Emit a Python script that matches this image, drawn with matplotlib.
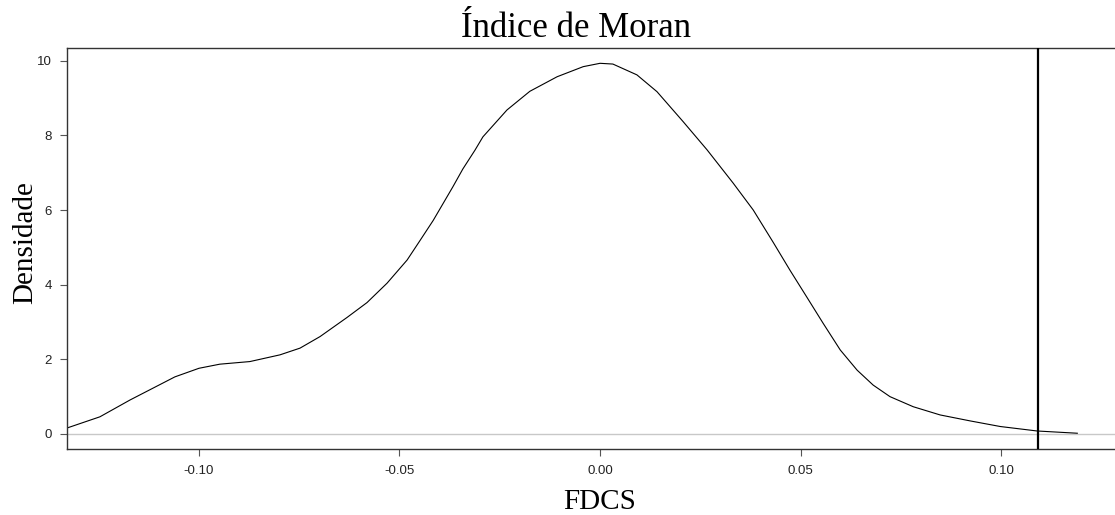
import matplotlib
matplotlib.use("Agg")
import matplotlib.pyplot as plt

# density curve (x = Moran's I, y = density)
moran_x = [-0.1329, -0.1247, -0.1172, -0.1060, -0.1000, -0.0948, -0.0873, -0.0798,
           -0.0748, -0.0698, -0.0631, -0.0581, -0.0531, -0.0481, -0.0449, -0.0416,
           -0.0367, -0.0342, -0.0312, -0.0292, -0.0232, -0.0175, -0.0107, -0.0042,
           0.0000, 0.0032, 0.0092, 0.0142, 0.0207, 0.0267, 0.0332, 0.0382,
           0.0432, 0.0474, 0.0516, 0.0556, 0.0599, 0.0641, 0.0681, 0.0723,
           0.0781, 0.0848, 0.0923, 0.0998, 0.1090, 0.1190]
densidade = [0.16, 0.46, 0.91, 1.53, 1.76, 1.87, 1.94, 2.12,
             2.30, 2.61, 3.12, 3.52, 4.04, 4.66, 5.18, 5.72,
             6.62, 7.10, 7.60, 7.96, 8.68, 9.18, 9.57, 9.84,
             9.93, 9.91, 9.62, 9.17, 8.37, 7.61, 6.72, 6.00,
             5.13, 4.38, 3.66, 2.97, 2.25, 1.71, 1.31, 1.00,
             0.73, 0.51, 0.35, 0.20, 0.08, 0.02]
observado = 0.1092

x_ticks = [-0.10, -0.05, 0.00, 0.05, 0.10]
x_labels = ["-0.10", "-0.05", "0.00", "0.05", "0.10"]
y_ticks = [0, 2, 4, 6, 8, 10]

fig = plt.figure(figsize=(11.15, 5.15), dpi=100)
ax = fig.add_axes([0.0601, 0.1276, 0.9399, 0.7792])

ax.axhline(0, color="#c8c8c8", lw=1.0, zorder=1)
ax.plot(moran_x, densidade, color="black", lw=0.8, zorder=2,
        solid_joinstyle="round")
ax.axvline(observado, color="black", lw=1.6, zorder=3)

ax.set_xlim(-0.1329, 0.1284)
ax.set_ylim(-0.41, 10.34)

ax.spines["right"].set_visible(False)
for s in ["left", "top", "bottom"]:
    ax.spines[s].set_color("#333333")
    ax.spines[s].set_linewidth(1.0)

ax.set_xticks(x_ticks)
ax.set_xticklabels(x_labels)
ax.set_yticks(y_ticks)
ax.tick_params(direction="out", length=5, width=0.8, colors="#555555",
               labelcolor="#222222", labelsize=9.5, pad=6)
for lab in ax.get_xticklabels() + ax.get_yticklabels():
    lab.set_family("Liberation Sans")

serif = "Liberation Serif"
fig.text(576 / 1115, 1 - 37 / 515, "Índice de Moran", ha="center", va="baseline",
         family=serif, fontsize=25)
fig.text(600 / 1115, 1 - 509 / 515, "FDCS", ha="center", va="baseline",
         family=serif, fontsize=21)
fig.text(12 / 1115, 1 - 243 / 515, "Densidade", ha="left", va="center",
         rotation=90, family=serif, fontsize=21)

fig.savefig("out.png", dpi=100)
